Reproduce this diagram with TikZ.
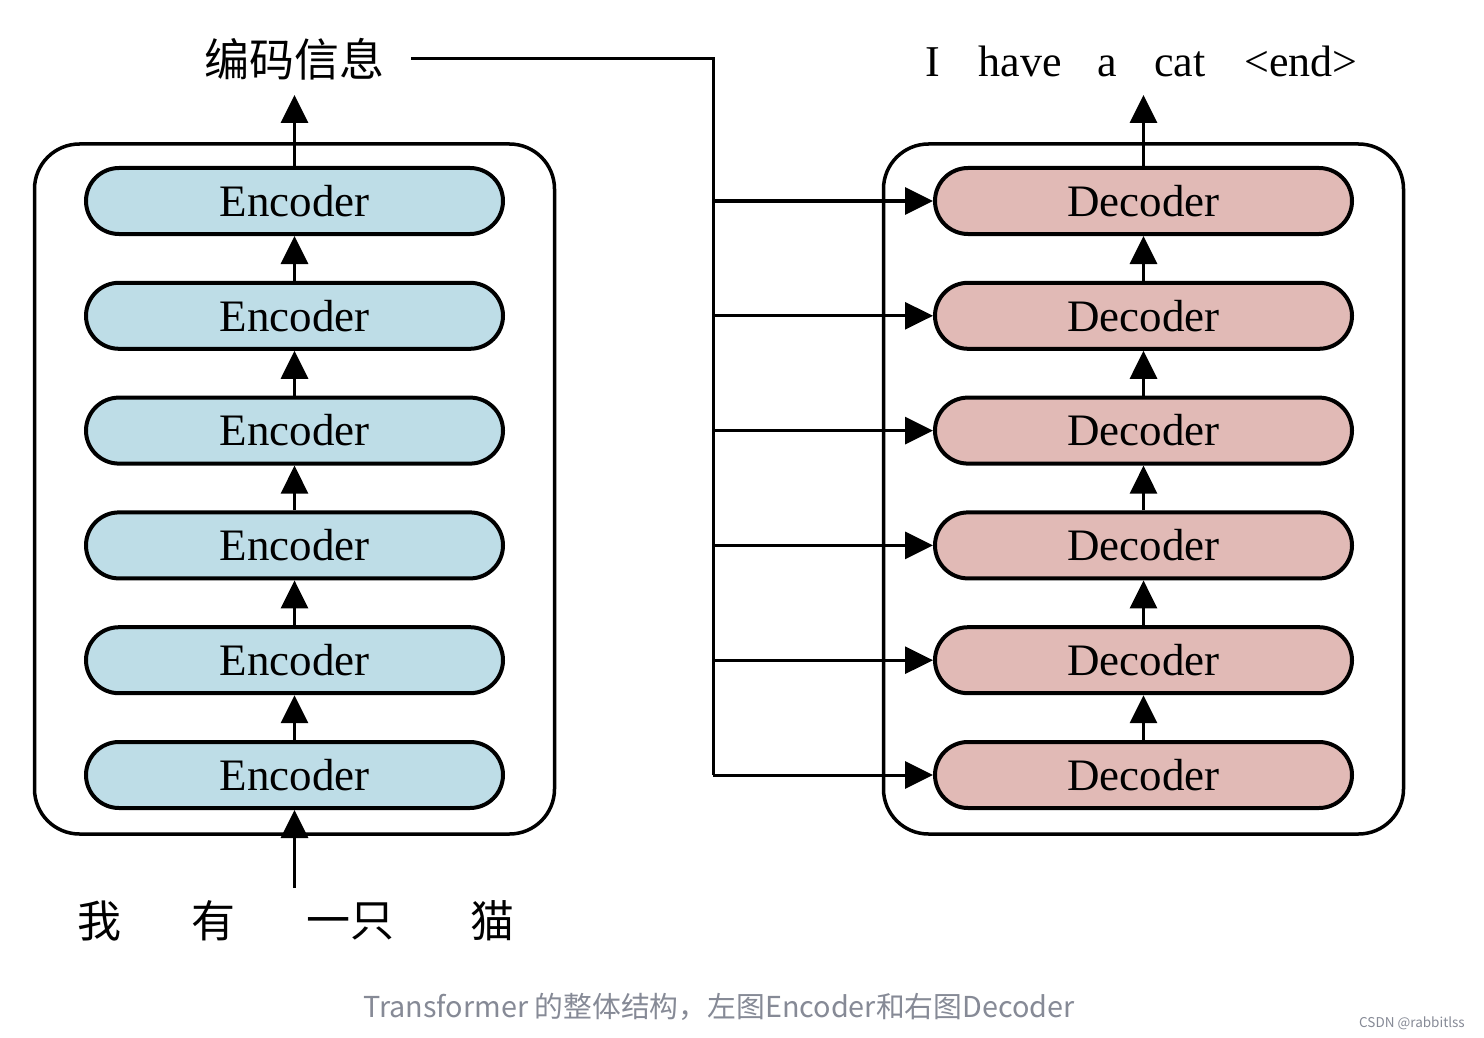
\documentclass[tikz,border=0pt]{standalone}
\usepackage{fontspec}
\setmainfont{Liberation Serif}
\newfontfamily\cjk{Noto Sans CJK SC}
\usetikzlibrary{arrows.meta}
\definecolor{encblue}{RGB}{190,221,231}
\definecolor{decpink}{RGB}{225,186,182}
\definecolor{capgray}{RGB}{134,138,150}
\begin{document}
\begin{tikzpicture}[x=1pt,y=-1pt,
  stage/.style={draw=black, line width=4pt, minimum width=417pt, minimum height=66pt,
    rounded corners=33pt, inner sep=0pt, font=\fontsize{45}{50}\selectfont},
  enc/.style={stage, fill=encblue},
  dec/.style={stage, fill=decpink},
  outerbox/.style={draw=black, line width=3.5pt, rounded corners=45pt,
    minimum width=520pt, minimum height=690pt, inner sep=0pt},
  arr/.style={-{Triangle[length=28pt,width=27pt]}, line width=3pt},
  feed/.style={line width=3pt},
  cjkword/.style={font=\cjk\fontsize{44}{48}\selectfont, inner sep=0pt},
  enword/.style={font=\fontsize{44}{48}\selectfont, inner sep=0pt, anchor=base}]
\useasboundingbox (0,0) rectangle (1484,1038);
\fill[white] (0,0) rectangle (1484,1038);

% outer boxes
\node[outerbox] (encbox) at (294.5,489) {};
\node[outerbox] (decbox) at (1143.5,489) {};

% stages
\foreach \i/\y in {1/201,2/315.8,3/430.6,4/545.4,5/660.2,6/775}{
  \node[enc] (e\i) at (294.5,\y) {Encoder};
  \node[dec] (d\i) at (1143.5,\y) {Decoder};
}

% vertical arrows between stages
\foreach \i/\j in {2/1,3/2,4/3,5/4,6/5}{
  \draw[arr] (e\i.north) -- (e\j.south);
  \draw[arr] (d\i.north) -- (d\j.south);
}

% encoder output
\node[font=\cjk\fontsize{45}{50}\selectfont, inner sep=0pt] (encout) at (294,59) {编码信息};
\coordinate (enctip) at (294.5,95);
\draw[arr] (e1.north) -- (enctip);

% encoder input
\coordinate (instart) at (294.5,888);
\draw[arr] (instart) -- (e6.south);
\node[cjkword] (w1) at (99,921) {我};
\node[cjkword] (w2) at (213,921) {有};
\node[cjkword] (w3) at (350,921) {一只};
\node[cjkword] (w4) at (492,921) {猫};

% decoder output
\coordinate (dectip) at (1143.5,95);
\draw[arr] (d1.north) -- (dectip);
\node[enword] (o1) at (933,77) {I};
\node[enword] (o2) at (1020,77) {have};
\node[enword] (o3) at (1107,77) {a};
\node[enword] (o4) at (1180,77) {cat};
\node[enword] (o5) at (1301,77) {<end>};

% feed lines
\coordinate (fstart) at (411,59);
\coordinate (fcorner) at (713,59);
\coordinate (fbottom) at (713,775);
\draw[feed] (fstart) -- (fcorner) -- (fbottom);
\foreach \i/\y in {1/201,2/315.8,3/430.6,4/545.4,5/660.2,6/775}{
  \coordinate (b\i) at (713,\y);
  \draw[arr] (b\i) -- (d\i.west);
}

% caption
\node[font=\cjk\fontsize{28.8}{32}\selectfont, text=capgray, inner sep=0pt] (caption) at (719,1007)
  {Transformer 的整体结构，左图Encoder和右图Decoder};
\node[font=\cjk\fontsize{13.5}{15}\selectfont, text=capgray, inner sep=0pt] (credit) at (1412,1023)
  {CSDN @rabbitlss};
\end{tikzpicture}
\end{document}
